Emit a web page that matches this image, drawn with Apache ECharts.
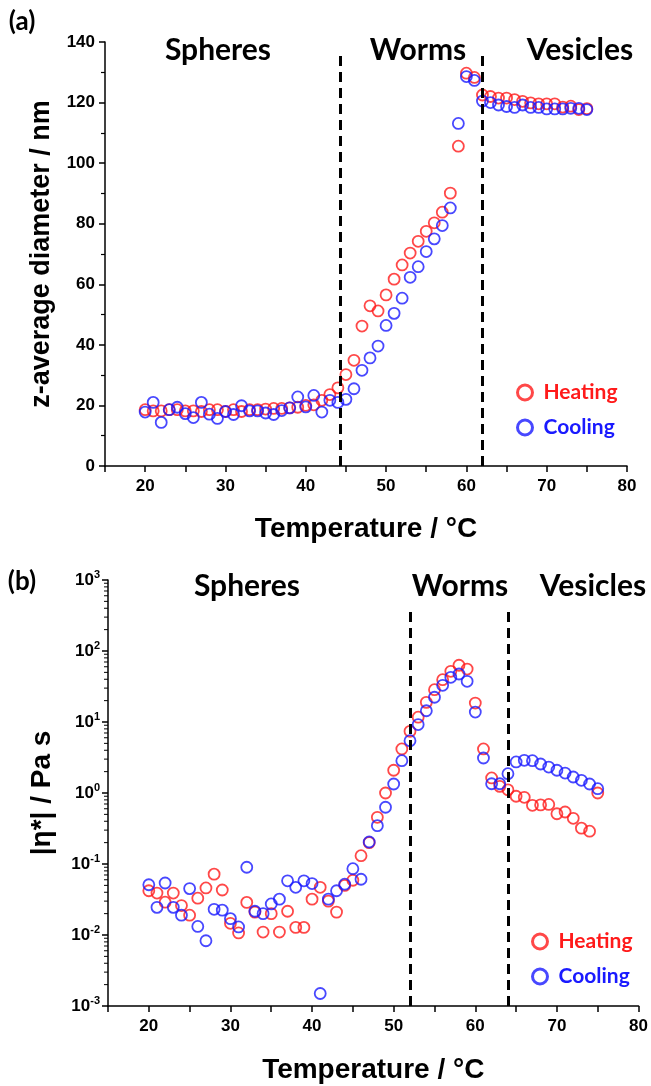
<!DOCTYPE html>
<html>
<head>
<meta charset="UTF-8"/>
<script src="https://cdn.jsdelivr.net/npm/echarts@6/dist/echarts.min.js"></script>
<style>
  html, body { margin: 0; padding: 0; background: #fff; }
  #main { width: 651px; height: 1086px; }
</style>
</head>
<body>
<div id="main"></div>
<script type="text/javascript">
// temperature (°C) of each measurement
var temps = [20, 21, 22, 23, 24, 25, 26, 27, 28, 29,
             30, 31, 32, 33, 34, 35, 36, 37, 38, 39,
             40, 41, 42, 43, 44, 45, 46, 47, 48, 49,
             50, 51, 52, 53, 54, 55, 56, 57, 58, 59,
             60, 61, 62, 63, 64, 65, 66, 67, 68, 69,
             70, 71, 72, 73, 74, 75];

// (a) z-average diameter / nm
var diamHeating = [18.6, 18.2, 18.2, 18.6, 18.6, 18.2, 18.2, 18.0, 18.6, 18.6,
                   18.0, 18.6, 18.0, 18.6, 18.6, 18.8, 19.0, 19.0, 19.2, 19.4,
                   20.0, 20.2, 21.7, 23.6, 25.8, 30.2, 34.9, 46.2, 52.9, 51.2,
                   56.5, 61.7, 66.4, 70.3, 74.2, 77.5, 80.3, 83.8, 90.1, 105.6,
                   129.7, 128.3, 122.5, 122.0, 121.5, 121.5, 121.0, 120.4, 119.9, 119.6,
                   119.6, 119.6, 118.5, 118.8, 117.7, 118.0];
var diamCooling = [17.8, 21.0, 14.4, 18.6, 19.4, 17.3, 16.0, 21.0, 17.1, 15.7,
                   18.0, 17.0, 19.9, 18.2, 18.2, 17.5, 17.0, 18.3, 19.2, 22.8,
                   19.5, 23.3, 17.8, 21.7, 21.0, 22.0, 25.5, 31.6, 35.7, 39.6,
                   46.4, 50.4, 55.4, 62.3, 65.8, 70.8, 75.0, 79.4, 85.2, 113.1,
                   128.6, 127.3, 120.5, 120.0, 119.2, 118.7, 118.4, 119.2, 118.4, 118.4,
                   117.9, 117.9, 117.9, 118.1, 118.1, 117.7];

// (b) |eta*| / Pa s
var etaHeating = [0.042, 0.039, 0.029, 0.039, 0.026, 0.019, 0.033, 0.046, 0.072, 0.043,
                  0.0146, 0.0107, 0.0288, 0.021, 0.011, 0.020, 0.011, 0.0216, 0.0128, 0.0128,
                  0.032, 0.047, 0.030, 0.021, 0.050, 0.059, 0.131, 0.20, 0.455, 1.0,
                  2.09, 4.17, 7.4, 11.7, 18.9, 28.5, 39.4, 51.8, 63, 55.7,
                  18.5, 4.17, 1.63, 1.24, 1.11, 0.90, 0.87, 0.67, 0.68, 0.69,
                  0.51, 0.54, 0.44, 0.32, 0.29, 1.0];
var etaCooling = [0.051, 0.0245, 0.054, 0.0245, 0.019, 0.045, 0.0132, 0.0083, 0.023, 0.0224,
                  0.017, 0.013, 0.09, 0.0216, 0.020, 0.0274, 0.032, 0.058, 0.047, 0.058,
                  0.053, 0.0015, 0.032, 0.042, 0.052, 0.086, 0.061, 0.204, 0.347, 0.63,
                  1.34, 2.85, 5.45, 9.2, 14.4, 22.3, 32.9, 42.6, 47.4, 37.4,
                  13.8, 3.11, 1.35, 1.35, 1.87, 2.74, 2.89, 2.85, 2.56, 2.32,
                  2.09, 1.91, 1.68, 1.51, 1.34, 1.15];

// phase boundaries (°C)
var boundsA = [44.3, 62];
var boundsB = [52, 64];

var RED = '#ff1a1a', BLUE = '#1a1aff';
var tickFont = 'Liberation Sans';
var textFont = 'Lato';

function pairs(xs, ys) {
    var out = [];
    for (var i = 0; i < xs.length; i++) out.push([xs[i], ys[i]]);
    return out;
}

function dashLines(xs, y0, y1) {
    var d = [];
    xs.forEach(function (x) { d.push([{coord: [x, y0]}, {coord: [x, y1]}]); });
    return d;
}

// log minor tick marks (2..9 inside each decade)
var minorLog = [];
for (var e = -3; e < 3; e++) {
    for (var m = 2; m <= 9; m++) minorLog.push([15, m * Math.pow(10, e)]);
}

var axisCommon = {
    axisLine: {show: true, onZero: false, lineStyle: {color: '#000', width: 1.5}},
    axisTick: {show: true, inside: false, length: 6, lineStyle: {color: '#000', width: 1.5}},
    splitLine: {show: false}
};

function xAxisDef(grid, gap) {
    return Object.assign({
        type: 'value', gridIndex: grid, min: 15, max: 80, interval: 5,
        name: 'Temperature / °C', nameLocation: 'middle', nameGap: gap,
        nameTextStyle: {fontFamily: tickFont, fontWeight: 'bold', fontSize: 28, color: '#000'},
        axisLabel: {
            margin: 12, color: '#000', fontFamily: tickFont, fontWeight: 'bold', fontSize: 17,
            formatter: function (v) { return v % 10 === 0 && v > 15 ? String(v) : ''; }
        }
    }, axisCommon);
}

function marker(color) {
    return {color: 'rgba(0,0,0,0)', borderColor: color, borderWidth: 1.8};
}

function scatter(name, data, color, xi, yi, extra) {
    return Object.assign({
        name: name, type: 'scatter', xAxisIndex: xi, yAxisIndex: yi,
        symbol: 'circle', symbolSize: 11, data: data,
        itemStyle: marker(color), emphasis: {disabled: true}
    }, extra || {});
}

var dashStyle = {color: '#000', width: 3, type: [10, 6]};

function legendDef(left, top) {
    return {
        orient: 'vertical', left: left, top: top, itemGap: 14,
        itemWidth: 15, itemHeight: 15, icon: 'circle', selectedMode: false,
        textStyle: {fontFamily: textFont, fontWeight: 'bold', fontSize: 21, padding: [0, 0, 0, 6]},
        data: [
            {name: 'Heating', itemStyle: {color: 'rgba(0,0,0,0)', borderColor: RED, borderWidth: 3}, textStyle: {color: RED}},
            {name: 'Cooling', itemStyle: {color: 'rgba(0,0,0,0)', borderColor: BLUE, borderWidth: 3}, textStyle: {color: BLUE}}
        ]
    };
}

function label(text, x, y, size) {
    return {
        type: 'text', x: x, y: y,
        style: {text: text, font: 'bold ' + size + 'px ' + textFont, fill: '#000', align: 'center', verticalAlign: 'middle'}
    };
}

var chart = echarts.init(document.getElementById('main'));
var option = {
    animation: false,
    grid: [
        {left: 105, top: 42, width: 522, height: 424},
        {left: 108, top: 580, width: 533, height: 426}
    ],
    xAxis: [xAxisDef(0, 49), xAxisDef(1, 50)],
    yAxis: [
        Object.assign({
            type: 'value', gridIndex: 0, min: 0, max: 140, interval: 20,
            name: 'z-average diameter / nm', nameLocation: 'middle', nameGap: 50,
            nameTextStyle: {fontFamily: tickFont, fontWeight: 'bold', fontSize: 27, color: '#000'},
            minorTick: {show: true, splitNumber: 2, length: 4, lineStyle: {color: '#000', width: 1.2}},
            axisLabel: {margin: 10, color: '#000', fontFamily: tickFont, fontWeight: 'bold', fontSize: 17}
        }, axisCommon),
        Object.assign({
            type: 'log', gridIndex: 1, logBase: 10, min: 0.001, max: 1000, interval: 1,
            name: '|η*| / Pa s', nameLocation: 'middle', nameGap: 52,
            nameTextStyle: {fontFamily: tickFont, fontWeight: 'bold', fontSize: 28, color: '#000'},
            axisLabel: {
                margin: 8, color: '#000',
                formatter: function (v) {
                    var ex = Math.round(Math.log10(v));
                    return '{b|10}{s|' + ex + '}';
                },
                rich: {
                    b: {fontFamily: tickFont, fontWeight: 'bold', fontSize: 17, color: '#000'},
                    s: {fontFamily: tickFont, fontWeight: 'bold', fontSize: 11, color: '#000', verticalAlign: 'bottom', padding: [0, 0, 10, 0]}
                }
            }
        }, axisCommon)
    ],
    legend: [legendDef(511, 377), legendDef(526, 926)],
    graphic: [
        label('(a)', 22, 22, 26),
        label('(b)', 22, 582, 26),
        label('Spheres', 218, 50, 30),
        label('Worms', 418, 50, 30),
        label('Vesicles', 580, 50, 30),
        label('Spheres', 247, 586, 30),
        label('Worms', 460, 586, 30),
        label('Vesicles', 593, 586, 30)
    ],
    series: [
        scatter('Heating', pairs(temps, diamHeating), RED, 0, 0, {
            markLine: {silent: true, symbol: 'none', label: {show: false}, lineStyle: dashStyle,
                data: dashLines(boundsA, 0, 136)}
        }),
        scatter('Cooling', pairs(temps, diamCooling), BLUE, 0, 0),
        scatter('Heating', pairs(temps, etaHeating), RED, 1, 1, {
            markLine: {silent: true, symbol: 'none', label: {show: false}, lineStyle: dashStyle,
                data: dashLines(boundsB, 0.001, 400)}
        }),
        scatter('Cooling', pairs(temps, etaCooling), BLUE, 1, 1),
        {
            type: 'custom', xAxisIndex: 1, yAxisIndex: 1, silent: true, clip: false,
            data: minorLog,
            renderItem: function (params, api) {
                var p = api.coord([api.value(0), api.value(1)]);
                return {type: 'line', shape: {x1: p[0] - 4, y1: p[1], x2: p[0], y2: p[1]},
                    style: {stroke: '#000', lineWidth: 1}};
            }
        }
    ]
};
chart.setOption(option);
</script>
</body>
</html>
